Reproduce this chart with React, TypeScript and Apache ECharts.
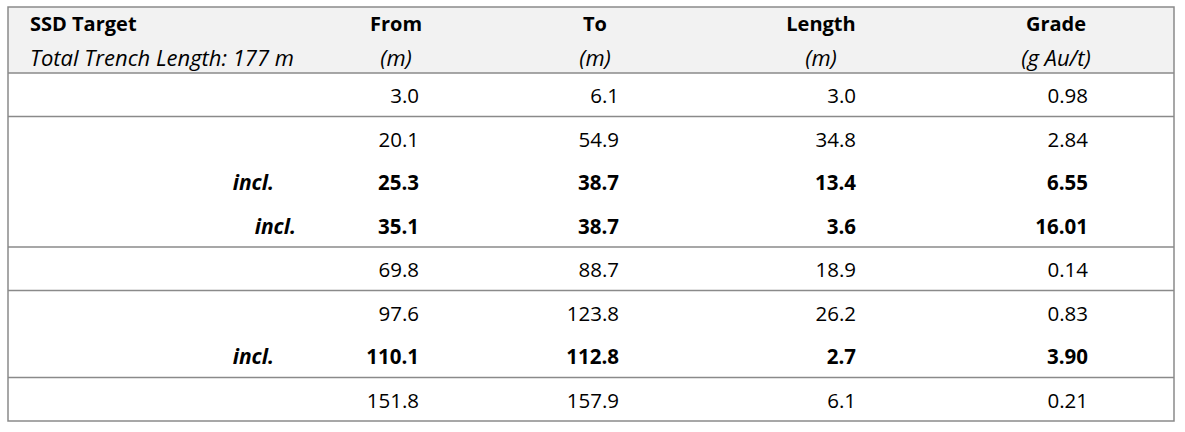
import React, { useEffect, useRef } from "react";
import * as echarts from "echarts";

// ---- data ----
const targetTitle = "SSD Target";
const trenchNote = "Total Trench Length: 177 m";
const columnNames = ["From", "To", "Length", "Grade"];
const columnUnits = ["(m)", "(m)", "(m)", "(g Au/t)"];
const fromValues = [3.0, 20.1, 25.3, 35.1, 69.8, 97.6, 110.1, 151.8];
const toValues = [6.1, 54.9, 38.7, 38.7, 88.7, 123.8, 112.8, 157.9];
const lengthValues = [3.0, 34.8, 13.4, 3.6, 18.9, 26.2, 2.7, 6.1];
const gradeValues = [0.98, 2.84, 6.55, 16.01, 0.14, 0.83, 3.9, 0.21];
const inclLevel = [0, 0, 1, 2, 0, 0, 1, 0];
const groupIds = [0, 1, 1, 1, 2, 3, 3, 4];
const inclLabel = "incl.";
const decimals = [1, 1, 1, 2];

// ---- layout / style ----
const T_LEFT = 8;
const T_TOP = 7;
const T_RIGHT = 1174;
const T_BOTTOM = 421;
const HEAD_BOTTOM = 73;
const COL_RIGHT = [419, 619, 856, 1088];
const HEAD_CENTER = [396, 595, 821, 1056];
const INCL_RIGHT = 252;
const INCL_STEP = 22;
const FONT = "'Open Sans'";
const FS = 20;
const FS_NUM = 20.5;
const FS_IT = 22;
const FS_INCL = 21;
const TEXT = "#000000";
const LINE = "#8a8a8a";
const HEAD_BG = "#f2f2f2";
const DY = 0.5;

export default function App() {
  const ref = useRef<HTMLDivElement>(null);
  useEffect(() => {
    if (!ref.current) return;
    const chart = echarts.init(ref.current, null, { renderer: "svg" });
    const columns = [fromValues, toValues, lengthValues, gradeValues];
    const rowNames = fromValues.map((_, i) => "r" + i);
    const n = rowNames.length;

    const headerTexts: any[] = [];
    headerTexts.push({
      type: "text",
      x: 30,
      y: 23,
      style: { text: targetTitle, fontFamily: FONT, fontSize: FS, fontWeight: "bold", fill: TEXT, align: "left", verticalAlign: "middle" },
    });
    headerTexts.push({
      type: "text",
      x: 30,
      y: 57,
      style: { text: trenchNote, fontFamily: FONT, fontSize: FS_IT, fontStyle: "italic", fill: TEXT, align: "left", verticalAlign: "middle" },
    });
    columnNames.forEach((c, j) => {
      headerTexts.push({
        type: "text",
        x: HEAD_CENTER[j],
        y: 23,
        style: { text: c, fontFamily: FONT, fontSize: FS, fontWeight: "bold", fill: TEXT, align: "center", verticalAlign: "middle" },
      });
      headerTexts.push({
        type: "text",
        x: HEAD_CENTER[j],
        y: 57,
        style: { text: columnUnits[j], fontFamily: FONT, fontSize: FS_IT, fontStyle: "italic", fill: TEXT, align: "center", verticalAlign: "middle" },
      });
    });

    chart.setOption({
      animation: false,
      grid: { left: T_LEFT, top: HEAD_BOTTOM, width: T_RIGHT - T_LEFT, height: T_BOTTOM - HEAD_BOTTOM },
      xAxis: { type: "value", min: 0, max: 1, show: false },
      yAxis: { type: "category", data: rowNames, inverse: true, show: false },
      graphic: [
        {
          type: "rect",
          z: 0,
          shape: { x: T_LEFT, y: T_TOP, width: T_RIGHT - T_LEFT, height: HEAD_BOTTOM - T_TOP },
          style: { fill: HEAD_BG },
        },
        ...headerTexts.map((t) => ({ ...t, z: 5 })),
        {
          type: "line",
          z: 10,
          shape: { x1: T_LEFT, y1: HEAD_BOTTOM, x2: T_RIGHT, y2: HEAD_BOTTOM },
          style: { stroke: LINE, lineWidth: 1.5 },
        },
        {
          type: "rect",
          z: 10,
          shape: { x: T_LEFT, y: T_TOP, width: T_RIGHT - T_LEFT, height: T_BOTTOM - T_TOP },
          style: { fill: "none", stroke: LINE, lineWidth: 1.5 },
        },
      ],
      series: [
        {
          type: "custom",
          data: rowNames.map((_, i) => [0, i]),
          encode: { x: 0, y: 1 },
          silent: true,
          renderItem: (params: any, api: any) => {
            const row = api.value(1) as number;
            const pt = api.coord([0, row]);
            const cy = pt[1];
            const h = api.size([0, 1])[1];
            const bold = inclLevel[row] > 0;
            const children: any[] = [];
            columns.forEach((vals, j) => {
              children.push({
                type: "text",
                x: COL_RIGHT[j],
                y: cy + DY,
                style: {
                  text: vals[row].toFixed(decimals[j]),
                  fontFamily: FONT,
                  fontSize: FS_NUM,
                  fontWeight: bold ? "bold" : "normal",
                  fill: TEXT,
                  align: "right",
                  verticalAlign: "middle",
                },
              });
            });
            if (inclLevel[row] > 0) {
              children.push({
                type: "text",
                x: INCL_RIGHT + INCL_STEP * inclLevel[row],
                y: cy + DY,
                style: {
                  text: inclLabel,
                  fontFamily: FONT,
                  fontSize: FS_INCL,
                  fontWeight: "bold",
                  fontStyle: "italic",
                  fill: TEXT,
                  align: "right",
                  verticalAlign: "middle",
                },
              });
            }
            if (row < n - 1 && groupIds[row] !== groupIds[row + 1]) {
              children.push({
                type: "line",
                shape: { x1: T_LEFT, y1: cy + h / 2, x2: T_RIGHT, y2: cy + h / 2 },
                style: { stroke: LINE, lineWidth: 1.5 },
              });
            }
            return { type: "group", children };
          },
        },
      ],
    });
    return () => chart.dispose();
  }, []);
  return (
    <div
      ref={ref}
      style={{ position: "absolute", left: 0, top: 0, width: 1185, height: 432, background: "#ffffff" }}
    />
  );
}
